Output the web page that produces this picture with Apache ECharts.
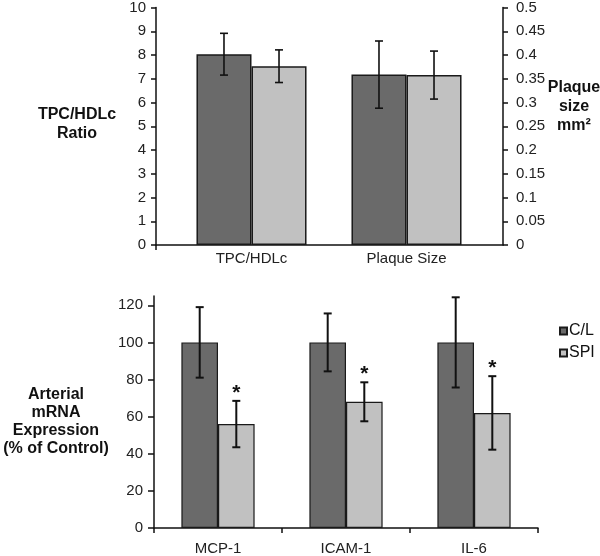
<!DOCTYPE html>
<html>
<head>
<meta charset="utf-8">
<script src="https://cdn.jsdelivr.net/npm/echarts@6/dist/echarts.min.js"></script>
<style>
html,body{margin:0;padding:0;background:#fff;}
#chart{width:600px;height:556px;}
</style>
</head>
<body>
<div id="chart"></div>
<script>
// ---------- DATA ----------
// Top panel: categories and their own scale (left axis: ratio, right axis: plaque size mm²)
var topCategories = ['TPC/HDLc', 'Plaque Size'];
var topAxisSide = ['left', 'right'];
var topCL = [7.95, 0.355];
var topSPI = [7.45, 0.354];
var topCLErr = [0.87, 0.07];
var topSPIErr = [0.68, 0.05];
var leftTicks = { min: 0, max: 10, interval: 1 };
var rightTicks = { min: 0, max: 0.5, interval: 0.05 };

// Bottom panel: arterial mRNA expression (% of control)
var genes = ['MCP-1', 'ICAM-1', 'IL-6'];
var exprCL = [100, 100, 100];
var exprSPI = [56, 68, 62];
var exprCLErr = [19, 15.6, 24.3];
var exprSPIErr = [12.5, 10.5, 19.8];
var exprSignificant = [true, true, true];
var exprTickValues = [0, 20, 40, 60, 80, 100, 120];
var exprMax = 125;

var seriesNames = ['C/L', 'SPI'];

// ---------- STYLE ----------
var FONT = 'Liberation Sans, Arial, sans-serif';
var DARK = '#6a6a6a';
var LIGHT = '#c1c1c1';
var EDGE = '#1a1a1a';
var TOP_BAR_FRAC = 0.355;
var BOT_BAR_FRAC = 0.286;

function blankExcept(arr, i) {
  return arr.map(function (v, j) { return j === i ? v : '-'; });
}

function errorRenderer(barFrac, lw, cap) {
  return function (params, api) {
    var cat = api.value(0), mean = api.value(1), err = api.value(2), slot = api.value(3), sig = api.value(4);
    var band = api.size([1, 0])[0];
    var bw = band * barFrac;
    var dx = slot === 0 ? -bw / 2 : bw / 2;
    var pTop = api.coord([cat, mean + err]);
    var pBot = api.coord([cat, mean - err]);
    var x = pTop[0] + dx;
    var st = { stroke: '#111', lineWidth: lw };
    var children = [
      { type: 'line', shape: { x1: x, y1: pTop[1], x2: x, y2: pBot[1] }, style: st },
      { type: 'line', shape: { x1: x - cap, y1: pTop[1], x2: x + cap, y2: pTop[1] }, style: st },
      { type: 'line', shape: { x1: x - cap, y1: pBot[1], x2: x + cap, y2: pBot[1] }, style: st }
    ];
    if (sig) {
      children.push({ type: 'text', style: { text: '*', x: x, y: pTop[1] - 8, align: 'center', verticalAlign: 'middle', font: 'bold 21px ' + FONT, fill: '#111' } });
    }
    return { type: 'group', children: children };
  };
}

var series = [];
// top bars
topCategories.forEach(function (c, i) {
  var yIdx = topAxisSide[i] === 'left' ? 2 : 3;
  series.push({ type: 'bar', name: seriesNames[0], stack: 'cl', xAxisIndex: 1, yAxisIndex: yIdx,
    barWidth: (TOP_BAR_FRAC * 100) + '%', barGap: '0%', data: blankExcept(topCL, i),
    itemStyle: { color: DARK, borderColor: EDGE, borderWidth: 1.5 }, silent: true });
  series.push({ type: 'bar', name: seriesNames[1], stack: 'spi', xAxisIndex: 1, yAxisIndex: yIdx,
    barWidth: (TOP_BAR_FRAC * 100) + '%', barGap: '0%', data: blankExcept(topSPI, i),
    itemStyle: { color: LIGHT, borderColor: EDGE, borderWidth: 1.5 }, silent: true });
  series.push({ type: 'custom', xAxisIndex: 1, yAxisIndex: yIdx, renderItem: errorRenderer(TOP_BAR_FRAC, 1.6, 4), silent: true,
    data: [[i, topCL[i], topCLErr[i], 0, 0], [i, topSPI[i], topSPIErr[i], 1, 0]], z: 5 });
});
// bottom bars
series.push({ type: 'bar', name: seriesNames[0], xAxisIndex: 2, yAxisIndex: 4,
  barWidth: (BOT_BAR_FRAC * 100) + '%', barGap: '0%', data: exprCL,
  itemStyle: { color: DARK, borderColor: EDGE, borderWidth: 1.2 }, silent: true });
series.push({ type: 'bar', name: seriesNames[1], xAxisIndex: 2, yAxisIndex: 4,
  barWidth: (BOT_BAR_FRAC * 100) + '%', barGap: '0%', data: exprSPI,
  itemStyle: { color: LIGHT, borderColor: EDGE, borderWidth: 1.2 }, silent: true });
var botErrData = [];
genes.forEach(function (g, i) {
  botErrData.push([i, exprCL[i], exprCLErr[i], 0, 0]);
  botErrData.push([i, exprSPI[i], exprSPIErr[i], 1, exprSignificant[i] ? 1 : 0]);
});
series.push({ type: 'custom', xAxisIndex: 2, yAxisIndex: 4, renderItem: errorRenderer(BOT_BAR_FRAC, 2, 4), silent: true, data: botErrData, z: 5 });

var axisLine = { show: true, lineStyle: { color: '#111', width: 1.5 } };
var tickLbl = { color: '#222', fontSize: 15, fontFamily: FONT };

var option = {
  animation: false,
  backgroundColor: '#fff',
  textStyle: { fontFamily: FONT },
  grid: [
    { left: 156, right: 97, top: 5, height: 240 },   // visible frame of top panel
    { left: 174, right: 116, top: 5, height: 240 },  // data area of top panel
    { left: 154, right: 62, top: 296, height: 236 }  // bottom panel
  ],
  xAxis: [
    { gridIndex: 0, type: 'value', min: 0, max: 1, axisLine: axisLine,
      axisTick: { show: true, length: 5, customValues: [0], lineStyle: { color: '#111', width: 1.5 } },
      axisLabel: { show: false }, splitLine: { show: false } },
    { gridIndex: 1, type: 'category', data: topCategories, axisLine: { show: false }, axisTick: { show: false },
      axisLabel: { color: '#222', fontSize: 15, fontFamily: FONT, margin: 6 } },
    { gridIndex: 2, type: 'category', data: genes, axisLine: axisLine,
      axisTick: { show: true, length: 5, lineStyle: { color: '#111', width: 1.5 } },
      axisLabel: { color: '#222', fontSize: 15, fontFamily: FONT, margin: 13 } }
  ],
  yAxis: [
    { gridIndex: 0, type: 'value', position: 'left', min: leftTicks.min, max: leftTicks.max, interval: leftTicks.interval,
      axisLine: axisLine, axisTick: { show: true, length: 5, lineStyle: { color: '#111', width: 1.5 } },
      axisLabel: Object.assign({ margin: 10 }, tickLbl), splitLine: { show: false } },
    { gridIndex: 0, type: 'value', position: 'right', min: rightTicks.min, max: rightTicks.max, interval: rightTicks.interval,
      axisLine: axisLine, axisTick: { show: true, length: 5, lineStyle: { color: '#111', width: 1.5 } },
      axisLabel: Object.assign({ margin: 13 }, tickLbl), splitLine: { show: false } },
    { gridIndex: 1, type: 'value', min: leftTicks.min, max: leftTicks.max, show: false, splitLine: { show: false } },
    { gridIndex: 1, type: 'value', min: rightTicks.min, max: rightTicks.max, show: false, splitLine: { show: false } },
    { gridIndex: 2, type: 'value', min: 0, max: exprMax, interval: 20,
      axisLine: axisLine,
      axisTick: { show: true, length: 6, customValues: exprTickValues, lineStyle: { color: '#111', width: 1.5 } },
      axisLabel: Object.assign({ margin: 11, customValues: exprTickValues }, tickLbl), splitLine: { show: false } }
  ],
  legend: {
    data: seriesNames, orient: 'vertical', left: 554, top: 318,
    itemWidth: 7, itemHeight: 7, itemGap: 6, icon: 'rect',
    textStyle: { color: '#111', fontSize: 16, fontFamily: FONT, padding: [0, 0, 0, -3] },
    selectedMode: false
  },
  graphic: [
    { type: 'text', x: 77, y: 105, style: { text: 'TPC/HDLc\nRatio', font: 'bold 16px ' + FONT, fill: '#111', align: 'center', verticalAlign: 'top', lineHeight: 19 } },
    { type: 'text', x: 574, y: 78, style: { text: 'Plaque\nsize\nmm²', font: 'bold 16px ' + FONT, fill: '#111', align: 'center', verticalAlign: 'top', lineHeight: 19 } },
    { type: 'text', x: 56, y: 386, style: { text: 'Arterial\nmRNA\nExpression\n(% of Control)', font: 'bold 16px ' + FONT, fill: '#111', align: 'center', verticalAlign: 'top', lineHeight: 18 } }
  ],
  series: series
};

var chart = echarts.init(document.getElementById('chart'), null, { renderer: 'canvas' });
chart.setOption(option);
</script>
</body>
</html>
